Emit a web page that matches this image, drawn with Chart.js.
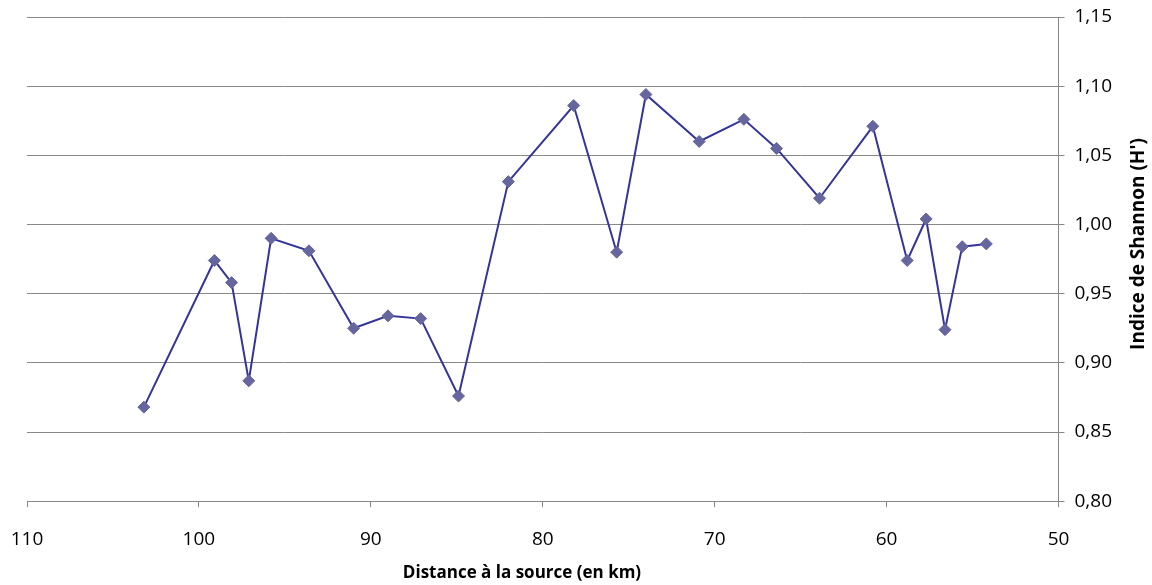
<!DOCTYPE html>
<html lang="fr">
<head>
    <meta charset="UTF-8">
    <title>Indice de Shannon</title>
    <script src="https://cdn.jsdelivr.net/npm/chart.js@4/dist/chart.umd.min.js"></script>
    <style>
        html, body { margin: 0; padding: 0; background: #fff; }
        .chart-container { width: 1152px; height: 585px; position: relative; }
    </style>
</head>
<body>
    <div class="chart-container">
        <canvas id="shannonChart"></canvas>
    </div>

    <script>
        // distance à la source (km) et indice H'
        const distances = [103.2, 99.1, 98.1, 97.1, 95.8, 93.6, 91.0, 89.0, 87.1, 84.9, 82.0, 78.2,
                           75.7, 74.0, 70.9, 68.3, 66.4, 63.9, 60.8, 58.8, 57.7, 56.6, 55.6, 54.2];
        const shannon = [0.868, 0.974, 0.958, 0.887, 0.990, 0.981, 0.925, 0.934, 0.932, 0.876, 1.031, 1.086,
                         0.980, 1.094, 1.060, 1.076, 1.055, 1.019, 1.071, 0.974, 1.004, 0.924, 0.984, 0.986];
        const xTicks = [110, 100, 90, 80, 70, 60, 50];
        const yTicks = [0.80, 0.85, 0.90, 0.95, 1.00, 1.05, 1.10, 1.15];

        const fontFamily = "'Open Sans', 'Liberation Sans', sans-serif";

        // titres des axes (Excel : titre vertical lu de bas en haut)
        const axisTitlesPlugin = {
            id: 'axisTitles',
            afterDraw(chart) {
                const ctx = chart.ctx;
                ctx.save();
                ctx.fillStyle = '#000';
                ctx.textAlign = 'center';
                ctx.textBaseline = 'middle';
                ctx.font = "bold 17px " + fontFamily;
                ctx.fillText('Distance à la source (en km)', 522, 573);
                ctx.translate(1139, 244);
                ctx.rotate(-Math.PI / 2);
                ctx.font = "bold 19px " + fontFamily;
                ctx.fillText("Indice de Shannon (H')", 0, 0);
                ctx.restore();
            }
        };

        // pas de marge automatique pour les étiquettes qui débordent
        const noOverflowPadding = axis => {
            axis.paddingLeft = 0;
            axis.paddingRight = 0;
            axis.paddingTop = 0;
            axis.paddingBottom = 0;
        };

        const ctx = document.getElementById('shannonChart').getContext('2d');
        new Chart(ctx, {
            type: 'line',
            data: {
                datasets: [{
                    label: "Indice de Shannon (H')",
                    data: distances.map((d, i) => ({ x: d, y: shannon[i] })),
                    borderColor: '#34359b',
                    borderWidth: 2,
                    pointStyle: 'rectRot',
                    pointRadius: 6,
                    pointBackgroundColor: '#66669e',
                    pointBorderColor: '#66669e',
                    pointBorderWidth: 1,
                    tension: 0,
                    fill: false
                }]
            },
            options: {
                responsive: true,
                maintainAspectRatio: false,
                animation: false,
                layout: {
                    padding: { left: 27, top: 17, right: 30, bottom: 13 }
                },
                plugins: {
                    legend: { display: false },
                    tooltip: { enabled: false }
                },
                scales: {
                    x: {
                        type: 'linear',
                        reverse: true,
                        min: 50,
                        max: 110,
                        afterBuildTicks: axis => { axis.ticks = xTicks.map(v => ({ value: v })); },
                        afterFit: noOverflowPadding,
                        grid: {
                            drawOnChartArea: false,
                            drawTicks: true,
                            tickLength: 6,
                            color: '#888'
                        },
                        border: { display: true, color: '#888', width: 1 },
                        ticks: {
                            color: '#000',
                            padding: 21,
                            maxRotation: 0,
                            font: { family: fontFamily, size: 19 }
                        }
                    },
                    y: {
                        position: 'right',
                        min: 0.80,
                        max: 1.15,
                        afterBuildTicks: axis => { axis.ticks = yTicks.map(v => ({ value: v })); },
                        afterFit: noOverflowPadding,
                        grid: {
                            drawOnChartArea: true,
                            drawTicks: true,
                            tickLength: 6,
                            color: '#888'
                        },
                        border: { display: true, color: '#888', width: 1 },
                        ticks: {
                            color: '#000',
                            padding: 10,
                            font: { family: fontFamily, size: 19 },
                            callback: v => v.toFixed(2).replace('.', ',')
                        }
                    }
                }
            },
            plugins: [axisTitlesPlugin]
        });
    </script>
</body>
</html>
